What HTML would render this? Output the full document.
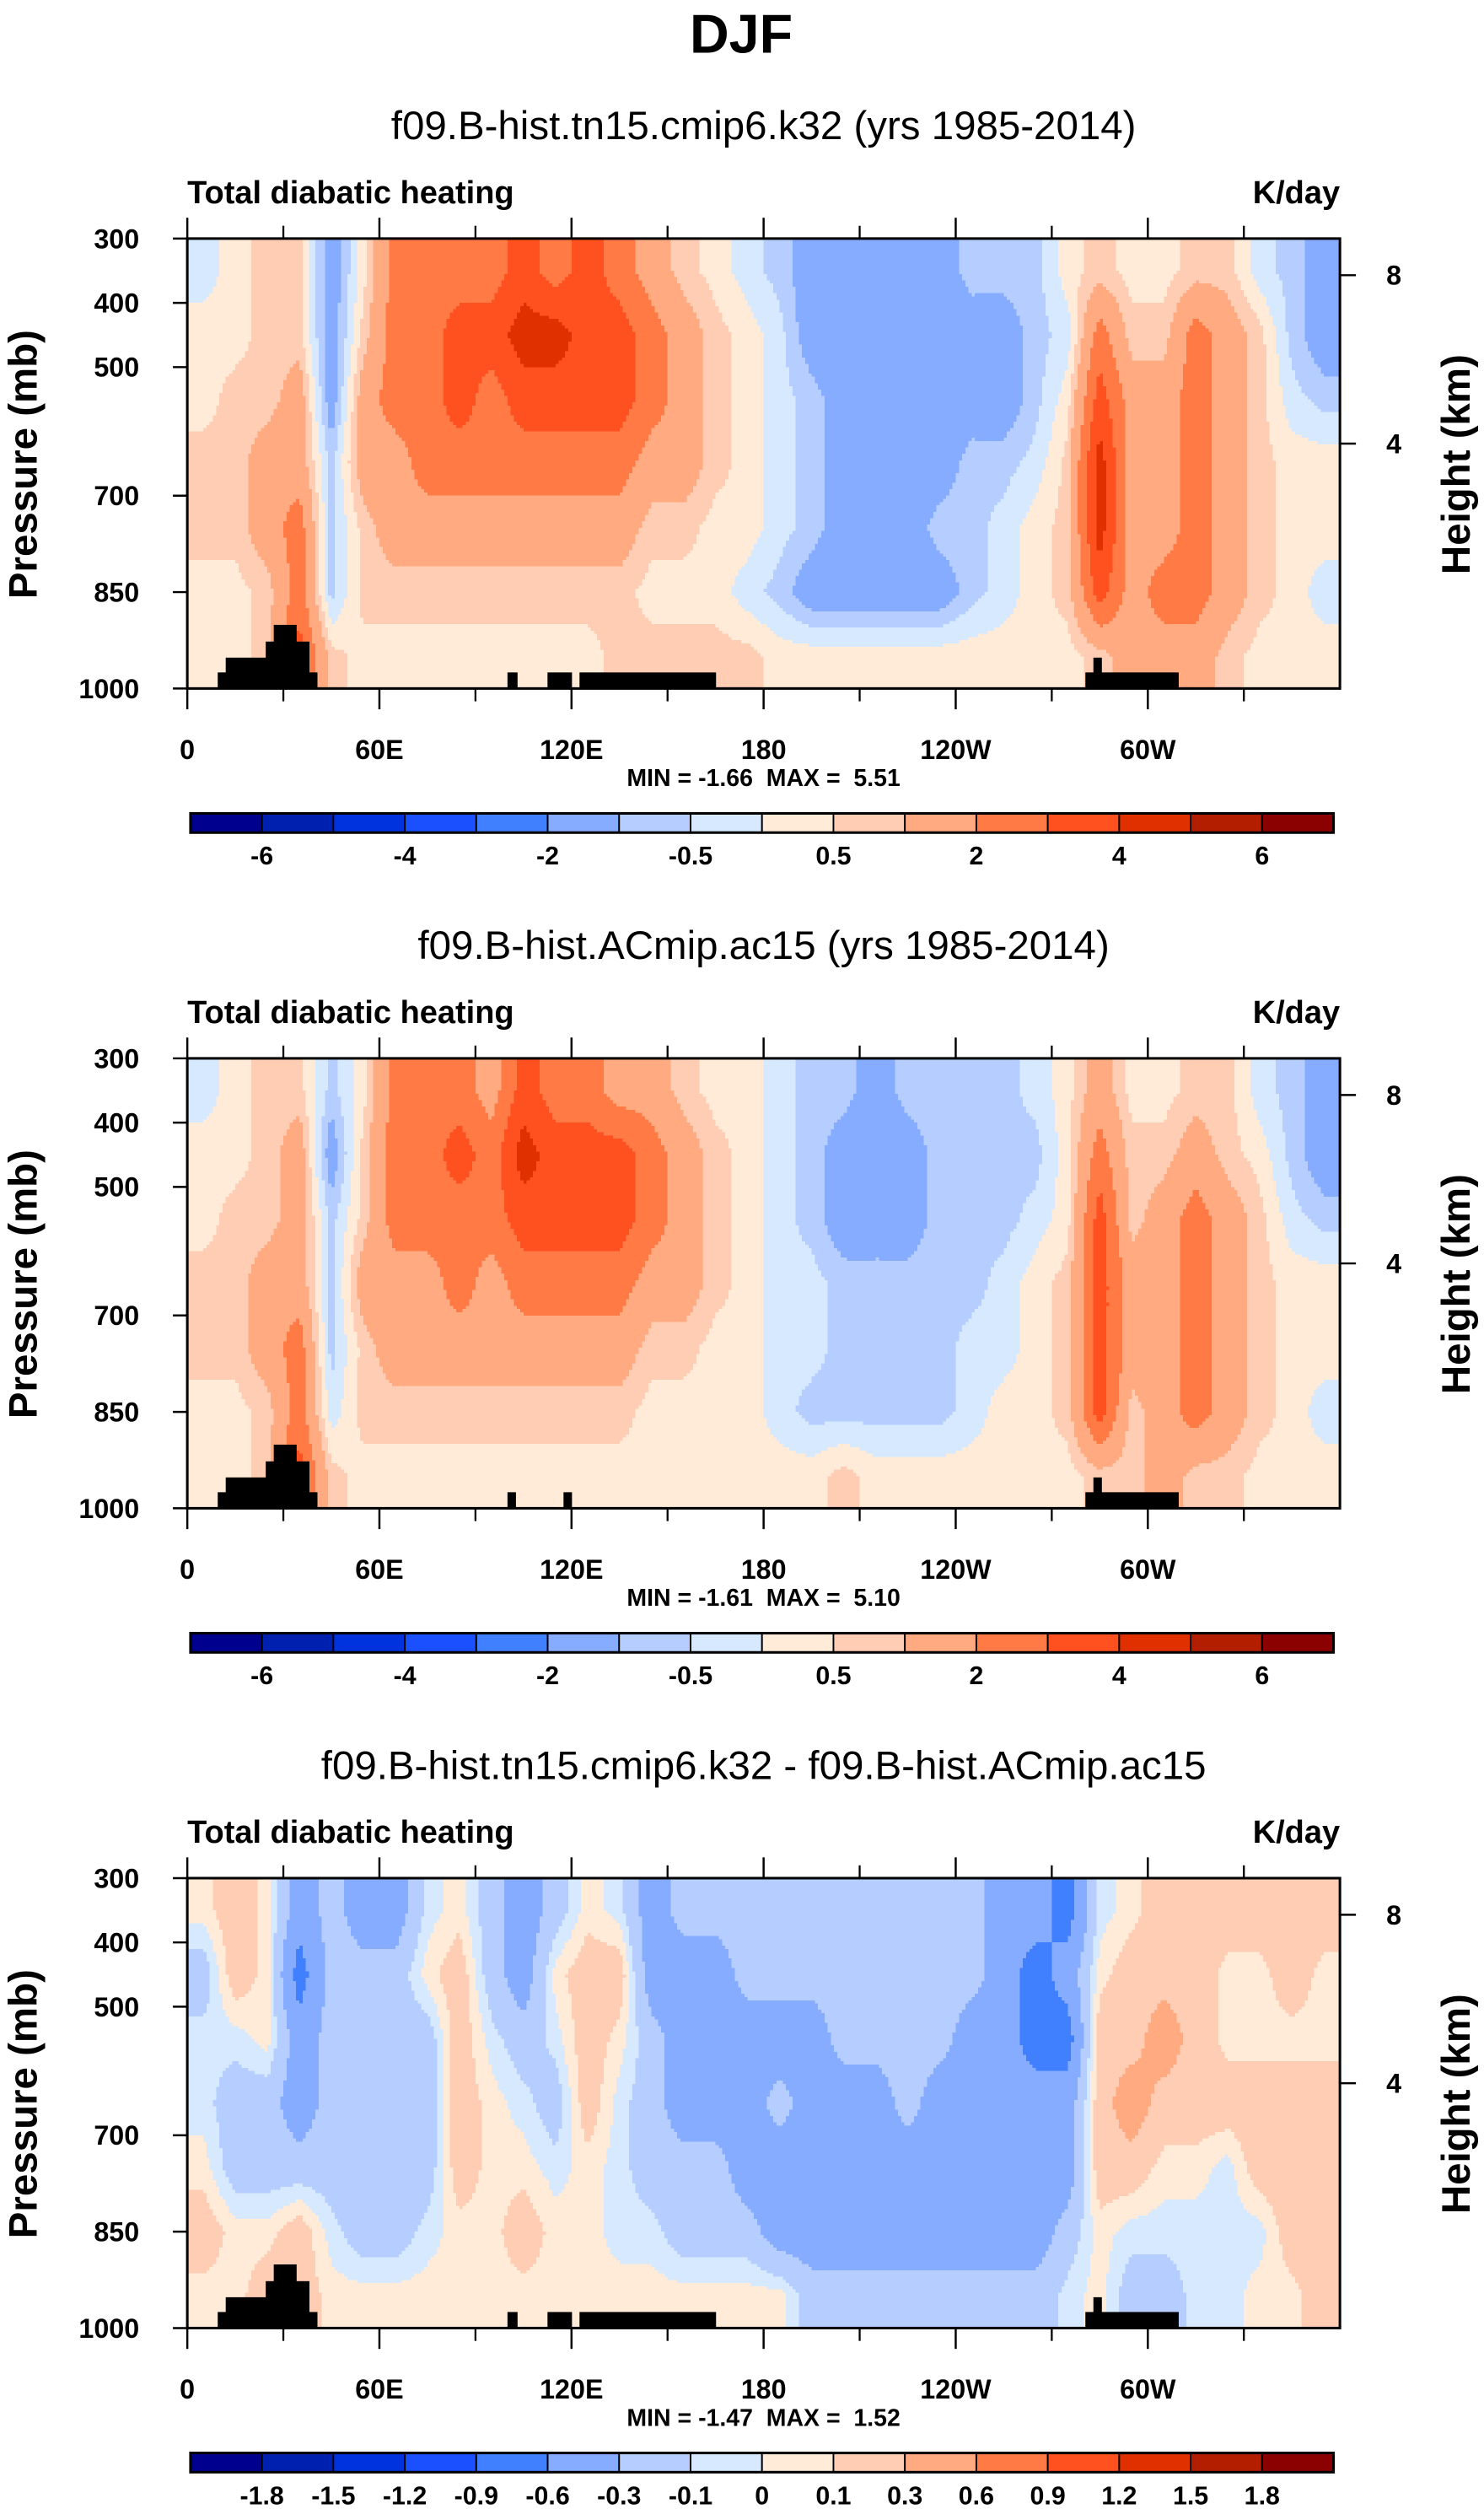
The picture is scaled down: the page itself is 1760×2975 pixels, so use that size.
<!DOCTYPE html>
<html><head><meta charset="utf-8">
<style>
html,body{margin:0;padding:0;background:#fff;}
svg{display:block;font-family:"Liberation Sans",Arial,sans-serif;}
.b{font-weight:bold;}
</style></head>
<body>
<svg id="fig" width="1760" height="2975" viewBox="0 0 927 1567" preserveAspectRatio="none" xmlns="http://www.w3.org/2000/svg">
<text x="463" y="33" text-anchor="middle" class="b" font-size="34">DJF</text>
</svg>
<script>
const palette=["#00008f","#0020b0","#0033dd","#1a50ff","#4080ff","#85acff","#b5ceff","#d6e9ff","#ffebd7","#ffcdb3","#ffaa80","#ff7a45","#ff5020","#e03000","#b41e00","#8b0000"];
const levelsAbs=[-6,-5,-4,-3,-2,-1,-0.5,0,0.5,1,2,3,4,5,6];
const labelsAbs=["-6","-4","-2","-0.5","0.5","2","4","6"];
const levelsDiff=[-1.8,-1.5,-1.2,-0.9,-0.6,-0.3,-0.1,0,0.1,0.3,0.6,0.9,1.2,1.5,1.8];
const labelsDiff=["-1.8","-1.5","-1.2","-0.9","-0.6","-0.3","-0.1","0","0.1","0.3","0.6","0.9","1.2","1.5","1.8"];
const lonCenters=[5,15,25,35,45,55,65,75,85,95,105,115,125,135,145,155,165,175,185,195,205,215,225,235,245,255,265,275,285,295,305,315,325,335,345,355];
const presCenters=[350,450,550,650,750,850,950];
const xTickLons=[0,60,120,180,240,300];
const xTickLabels=["0","60E","120E","180","120W","60W"];
const xMinorLons=[30,90,150,210,270,330];
const yTickP=[300,400,500,700,850,1000];
const heightTicksKm=[8,4];
const heightTickP=[357,619];
const panel1=[
[-0.3,0.3,0.3,0.7,0.7,0.3,0.3],[0.3,0.3,0.7,0.7,0.7,0.3,0.3],[0.7,0.7,0.7,1.5,1.5,0.7,0.7],[0.7,0.7,1.5,1.5,2.5,2.5,3.5],
[-1.5,-1.5,-1.5,-0.7,-0.7,-0.7,0.7],[0.3,0.7,1.5,1.5,0.7,0.7,0.3],[2.5,2.5,2.5,1.5,1.5,0.7,0.3],[2.5,2.5,2.5,2.5,1.5,0.7,0.3],
[2.5,3.5,3.5,2.5,1.5,0.7,0.3],[2.5,3.5,2.5,2.5,1.5,0.7,0.3],[3.5,4.5,3.5,2.5,1.5,0.7,0.3],[2.5,4.5,3.5,2.5,1.5,0.7,0.3],
[3.5,3.5,3.5,2.5,1.5,0.7,0.3],[2.5,3.5,3.5,2.5,1.5,0.7,0.7],[1.5,2.5,2.5,1.5,0.7,0.3,0.7],[0.7,1.5,1.5,1.5,0.7,0.3,0.7],
[0.3,0.7,0.7,0.7,0.3,0.3,0.7],[-0.3,0.3,0.3,0.3,0.3,-0.3,0.7],[-0.7,-0.3,-0.3,-0.3,-0.3,-0.7,0.3],[-1.5,-1.5,-0.7,-0.7,-0.7,-1.5,0.3],
[-1.5,-1.5,-1.5,-1.5,-1.5,-1.5,0.3],[-1.5,-1.5,-1.5,-1.5,-1.5,-1.5,0.3],[-1.5,-1.5,-1.5,-1.5,-1.5,-1.5,0.3],[-1.5,-1.5,-1.5,-1.5,-0.7,-1.5,0.3],
[-0.7,-1.5,-1.5,-0.7,-0.7,-0.7,0.3],[-0.7,-1.5,-1.5,-0.7,-0.3,-0.3,0.3],[-0.7,-0.7,-0.7,-0.3,0.3,0.3,0.3],[0.3,-0.3,0.3,0.7,0.7,0.7,0.3],
[0.7,2.5,3.5,4.5,4.5,3.5,0.7],[0.3,0.7,1.5,1.5,1.5,1.5,1.5],[0.3,0.7,1.5,1.5,1.5,2.5,1.5],[0.7,2.5,2.5,2.5,2.5,2.5,1.5],
[0.7,1.5,1.5,1.5,1.5,1.5,0.7],[-0.3,0.7,0.7,0.7,0.7,0.7,0.3],[-0.7,-0.7,-0.3,0.3,0.3,0.3,0.3],[-1.5,-1.5,-0.7,0.3,0.3,-0.3,0.3]];
const panel2=[
[-0.3,0.3,0.3,0.7,0.7,0.3,0.3],[0.3,0.3,0.7,0.7,0.7,0.3,0.3],[0.7,0.7,0.7,1.5,1.5,0.7,0.7],[0.7,1.5,1.5,1.5,2.5,2.5,3.5],
[-0.7,-1.5,-0.7,-0.7,-0.7,-0.3,0.7],[0.3,0.7,0.7,1.5,0.7,0.7,0.3],[2.5,2.5,2.5,1.5,1.5,0.7,0.3],[2.5,2.5,2.5,1.5,1.5,0.7,0.3],
[2.5,3.5,2.5,2.5,1.5,0.7,0.3],[1.5,2.5,2.5,1.5,1.5,0.7,0.3],[3.5,4.5,3.5,2.5,1.5,0.7,0.3],[2.5,3.5,3.5,2.5,1.5,0.7,0.3],
[2.5,3.5,3.5,2.5,1.5,0.7,0.3],[1.5,3.5,3.5,2.5,1.5,0.7,0.3],[1.5,2.5,2.5,1.5,0.7,0.3,0.3],[0.7,1.5,1.5,1.5,0.7,0.3,0.3],
[0.3,0.7,0.7,0.7,0.3,0.3,0.3],[0.3,0.3,0.3,0.3,0.3,0.3,0.3],[-0.3,-0.3,-0.3,-0.3,-0.3,-0.3,0.3],[-0.7,-0.7,-0.7,-0.3,-0.3,-0.7,0.3],
[-0.7,-1.5,-1.5,-0.7,-0.7,-0.7,0.7],[-1.5,-1.5,-1.5,-0.7,-0.7,-0.7,0.3],[-0.7,-1.5,-1.5,-0.7,-0.7,-0.7,0.3],[-0.7,-0.7,-0.7,-0.7,-0.7,-0.7,0.3],
[-0.7,-0.7,-0.7,-0.7,-0.3,-0.3,0.3],[-0.7,-0.7,-0.7,-0.3,-0.3,0.3,0.3],[-0.3,-0.7,-0.3,0.3,0.3,0.3,0.3],[0.3,0.3,0.3,0.7,0.7,0.7,0.3],
[1.5,2.5,3.5,3.5,3.5,3.5,0.7],[0.3,0.7,0.7,1.5,1.5,0.7,0.7],[0.3,0.7,1.5,1.5,1.5,1.5,1.5],[0.7,1.5,2.5,2.5,2.5,2.5,0.7],
[0.7,0.7,1.5,1.5,1.5,1.5,0.7],[-0.3,0.3,0.7,0.7,0.7,0.7,0.3],[-0.7,-0.7,-0.3,0.3,0.3,0.3,0.3],[-1.5,-1.5,-0.7,0.3,0.3,-0.3,0.3]];
const panel3=[
[0.05,-0.2,-0.05,-0.05,0.05,0.2,0.05],[0.2,0.2,-0.05,-0.2,-0.2,0.05,0.05],[0.05,0.05,0.05,-0.2,-0.2,0.05,0.2],[-0.45,-0.75,-0.45,-0.45,-0.2,0.2,0.2],
[-0.2,-0.2,-0.2,-0.2,-0.2,-0.05,0.05],[-0.45,-0.2,-0.2,-0.2,-0.2,-0.2,0.05],[-0.45,-0.2,-0.2,-0.2,-0.2,-0.2,0.05],[-0.05,0.05,-0.2,-0.2,-0.2,-0.05,0.05],
[0.05,0.2,0.2,0.2,0.2,0.05,0.05],[-0.2,-0.2,-0.05,0.05,0.05,0.05,0.05],[-0.45,-0.45,-0.2,-0.05,0.05,0.2,0.05],[-0.2,0.05,-0.05,-0.2,-0.05,0.05,0.05],
[0.05,0.2,0.2,0.2,0.05,0.05,0.05],[-0.05,0.2,0.05,-0.05,-0.05,-0.05,0.05],[-0.45,-0.45,-0.2,-0.2,-0.2,-0.05,0.05],[-0.2,-0.45,-0.45,-0.45,-0.2,-0.2,0.05],
[-0.2,-0.45,-0.45,-0.45,-0.2,-0.2,0.05],[-0.2,-0.2,-0.45,-0.45,-0.45,-0.2,0.05],[-0.2,-0.2,-0.45,-0.2,-0.45,-0.45,0.05],[-0.2,-0.2,-0.45,-0.45,-0.45,-0.45,-0.2],
[-0.2,-0.2,-0.2,-0.45,-0.45,-0.45,-0.2],[-0.2,-0.2,-0.2,-0.45,-0.45,-0.45,-0.2],[-0.2,-0.2,-0.2,-0.2,-0.45,-0.45,-0.2],[-0.2,-0.2,-0.2,-0.45,-0.45,-0.45,-0.2],
[-0.2,-0.2,-0.45,-0.45,-0.45,-0.45,-0.2],[-0.45,-0.45,-0.45,-0.45,-0.45,-0.45,-0.2],[-0.45,-0.75,-0.75,-0.45,-0.45,-0.45,-0.2],[-0.75,-0.45,-0.75,-0.45,-0.45,-0.2,-0.05],
[-0.05,0.05,0.2,0.2,0.2,0.05,0.05],[0.05,0.2,0.2,0.45,0.2,-0.05,-0.2],[0.2,0.2,0.45,0.2,0.05,-0.05,-0.2],[0.2,0.2,0.2,0.2,0.05,-0.05,-0.05],
[0.2,0.05,0.05,0.2,-0.05,-0.05,-0.05],[0.2,0.05,0.05,0.2,0.2,-0.05,0.05],[0.2,0.2,0.05,0.2,0.2,0.2,0.05],[0.2,0.05,0.05,0.2,0.2,0.2,0.2]];
const topoLon0=[9.5,12,24.5,27,34,38,100,112.5,122.5,280.5,283,285.5];
const topoLon1=[12,24.5,27,34,38,40.5,103,120,165,283,285.5,309.5];
const topoP=[975,952,927,901,927,975,975,975,975,975,952,975];
const topo2Lon0=[9.5,12,24.5,27,34,38,100,117.5,280.5,283,285.5];
const topo2Lon1=[12,24.5,27,34,38,40.5,102.5,120,283,285.5,309.5];
const topo2P=[975,952,927,901,927,975,975,975,975,952,975];
const titles=["f09.B-hist.tn15.cmip6.k32 (yrs 1985-2014)","f09.B-hist.ACmip.ac15 (yrs 1985-2014)","f09.B-hist.tn15.cmip6.k32 - f09.B-hist.ACmip.ac15"];
const minVals=["-1.66","-1.61","-1.47"];
const maxVals=["5.51","5.10","1.52"];

const NS="http://www.w3.org/2000/svg";
const svg=document.getElementById('fig');
function mk(tag,attrs,parent){const e=document.createElementNS(NS,tag);for(const k in attrs)e.setAttribute(k,attrs[k]);(parent||svg).appendChild(e);return e;}
function txt(s,attrs,parent){const e=mk('text',attrs,parent);e.textContent=s;return e;}
const X0=117,X1=837,PW=720,PH=281;
function xs(lon){return X0+lon/360*PW;}
function colorIdx(v,levels){let i=0;while(i<levels.length&&v>levels[i])i++;return i;}
function interp(arr,x){
  if(x<=arr[0])return [0,0,0];
  const n=arr.length;
  if(x>=arr[n-1])return [n-1,n-1,0];
  let i=0;while(arr[i+1]<x)i++;
  return [i,i+1,(x-arr[i])/(arr[i+1]-arr[i])];
}
function field(data,lon,p){
  const a=interp(lonCenters,lon),b=interp(presCenters,p);
  const v00=data[a[0]][b[0]],v10=data[a[1]][b[0]],v01=data[a[0]][b[1]],v11=data[a[1]][b[1]];
  return (v00*(1-a[2])+v10*a[2])*(1-b[2])+(v01*(1-a[2])+v11*a[2])*b[2];
}

function drawPanel(k,data,levels,labels,tl0,tl1,tp){
  const off=k*512;
  const top=149+off;
  function ys(p){return top+(p-300)/700*PH;}
  const g=mk('g',{});
  
  
  const t=txt(titles[k],{x:477,y:87+off,'text-anchor':'middle','font-size':25},g);
  
  
  const l=txt('Total diabatic heating',{x:117,y:127+off,class:'b','font-size':20},g);
  
  
  const r=txt('K/day',{x:837,y:127+off,'text-anchor':'end',class:'b','font-size':20},g);
  
  
  const fg=mk('g',{'shape-rendering':'crispEdges'},g);
  const dLon=1, dP=5;
  for(let p=300;p<1000;p+=dP){
    let runStart=0,runIdx=-1;
    for(let lon=0;lon<=360;lon+=dLon){
      const idx=lon<360?colorIdx(field(data,lon+dLon/2,p+dP/2),levels):-2;
      if(idx!==runIdx){
        if(runIdx>=0){
          const cell=mk('rect',{x:xs(runStart),y:ys(p),width:xs(lon)-xs(runStart)+0.3,height:ys(p+dP)-ys(p)+0.3,fill:palette[runIdx]},fg);
          
          
        }
        runStart=lon;runIdx=idx;
      }
    }
  }
  for(let i=0;i<tp.length;i++){
    const b=mk('rect',{x:xs(tl0[i]),y:ys(tp[i]),width:xs(tl1[i])-xs(tl0[i])+0.3,height:ys(1000)-ys(tp[i]),fill:'#000'},g);
    
    
  }
  const fr=mk('rect',{x:X0,y:top,width:PW,height:PH,fill:'none',stroke:'#000','stroke-width':1.6},g);
  
  
  xTickLons.forEach((lon,i)=>{
    mk('line',{x1:xs(lon),x2:xs(lon),y1:top,y2:top-13,stroke:'#000','stroke-width':1.3},g);
    mk('line',{x1:xs(lon),x2:xs(lon),y1:top+PH,y2:top+PH+13,stroke:'#000','stroke-width':1.3},g);
    const tl=txt(xTickLabels[i],{x:xs(lon),y:top+PH+44,'text-anchor':'middle',class:'b','font-size':17},g);
    
    
  });
  xMinorLons.forEach(lon=>{
    mk('line',{x1:xs(lon),x2:xs(lon),y1:top,y2:top-8,stroke:'#000','stroke-width':1.2},g);
    mk('line',{x1:xs(lon),x2:xs(lon),y1:top+PH,y2:top+PH+8,stroke:'#000','stroke-width':1.2},g);
  });
  yTickP.forEach(p=>{
    mk('line',{x1:X0,x2:X0-9,y1:ys(p),y2:ys(p),stroke:'#000','stroke-width':1.3},g);
    const yl=txt(String(p),{x:87,y:ys(p)+6,'text-anchor':'end',class:'b','font-size':17},g);
    
    
  });
  heightTicksKm.forEach((h,i)=>{
    const p=heightTickP[i];
    mk('line',{x1:X1,x2:X1+10,y1:ys(p),y2:ys(p),stroke:'#000','stroke-width':1.3},g);
    const hl=txt(String(h),{x:866,y:ys(p)+6,'text-anchor':'start',class:'b','font-size':17},g);
    
    
  });
  const yt=txt('Pressure (mb)',{x:0,y:0,transform:'translate(23,'+(290+off)+') rotate(-90)','text-anchor':'middle',class:'b','font-size':25},g);
  
  
  const ht=txt('Height (km)',{x:0,y:0,transform:'translate(918,'+(290+off)+') rotate(-90)','text-anchor':'middle',class:'b','font-size':25},g);
  
  
  const mm=txt('MIN = '+minVals[k]+'  MAX =  '+maxVals[k],{x:477,y:491+off,'text-anchor':'middle',class:'b','font-size':15},g);
  
  
  mm.style.whiteSpace='pre';
  const cbx=119,cbw=714,cby=508+off,cbh=12,bw=cbw/16;
  for(let i=0;i<16;i++){
    const sw=mk('rect',{x:cbx+i*bw,y:cby,width:bw,height:cbh,fill:palette[i],stroke:'#000','stroke-width':1},g);
    
    
  }
  mk('rect',{x:cbx,y:cby,width:cbw,height:cbh,fill:'none',stroke:'#000','stroke-width':1.6},g);
  const step=labels.length===15?1:2;
  labels.forEach((s,i)=>{
    const bi=step===1?i:2*i;
    const cl=txt(s,{x:cbx+(bi+1)*bw,y:cby+32,'text-anchor':'middle',class:'b','font-size':16},g);
    
    
  });
}
drawPanel(0,panel1,levelsAbs,labelsAbs,topoLon0,topoLon1,topoP);
drawPanel(1,panel2,levelsAbs,labelsAbs,topo2Lon0,topo2Lon1,topo2P);
drawPanel(2,panel3,levelsDiff,labelsDiff,topoLon0,topoLon1,topoP);
</script>
</body></html>
